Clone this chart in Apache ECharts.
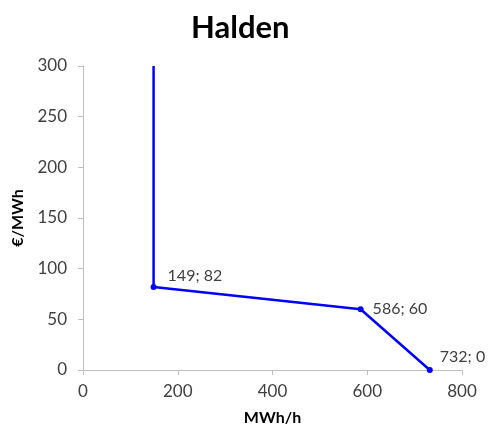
<!DOCTYPE html>
<html>
<head>
<meta charset="utf-8">
<script src="https://cdn.jsdelivr.net/npm/echarts@6/dist/echarts.min.js"></script>
<style>html,body{margin:0;padding:0;background:#fff}#c{width:489px;height:434px}</style>
</head>
<body>
<div id="c"></div>
<script>
// Supply curve for Halden: volume (MWh/h) against price (€/MWh)
const volumes = [149, 149, 586, 732];
const prices = [300, 82, 60, 0];
const labelled = [false, true, true, true];
const xTicks = { min: 0, max: 800, interval: 200 };
const yTicks = { min: 0, max: 300, interval: 50 };

const font = 'Lato, "Open Sans", sans-serif';
const points = volumes.map((v, i) => ({
  value: [v, prices[i]],
  symbolSize: labelled[i] ? 6 : 0,
  label: {
    show: labelled[i],
    position: 'right',
    offset: i === 1 ? [6, -11] : (i === 3 ? [2, -13] : [4, 0])
  }
}));

const chart = echarts.init(document.getElementById('c'));
chart.setOption({
  animation: false,
  title: {
    text: 'Halden', left: 186, top: 7,
    textStyle: { fontFamily: font, fontWeight: 'bold', fontSize: 31, color: '#000' }
  },
  grid: { left: 83, right: 27, top: 66, bottom: 64 },
  xAxis: {
    type: 'value', min: xTicks.min, max: xTicks.max, interval: xTicks.interval,
    name: 'MWh/h', nameLocation: 'middle', nameGap: 40,
    nameTextStyle: { fontFamily: font, fontWeight: 'bold', fontSize: 16, color: '#000' },
    axisLine: { show: true, lineStyle: { color: '#bfbfbf', width: 1 } },
    axisTick: { show: true, length: 5, lineStyle: { color: '#bfbfbf' } },
    axisLabel: { fontFamily: font, fontSize: 17, color: '#404040', margin: 13 },
    splitLine: { show: false }
  },
  yAxis: {
    type: 'value', min: yTicks.min, max: yTicks.max, interval: yTicks.interval,
    name: '€/MWh', nameLocation: 'middle', nameGap: 57, nameRotate: 90,
    nameTextStyle: { fontFamily: font, fontWeight: 'bold', fontSize: 16, color: '#000' },
    axisLine: { show: true, lineStyle: { color: '#bfbfbf', width: 1 } },
    axisTick: { show: true, length: 5, lineStyle: { color: '#bfbfbf' } },
    axisLabel: { fontFamily: font, fontSize: 17, color: '#404040', margin: 16 },
    splitLine: { show: false }
  },
  series: [{
    type: 'line',
    data: points,
    symbol: 'circle',
    showAllSymbol: true,
    lineStyle: { color: '#0000ff', width: 2.5 },
    itemStyle: { color: '#0000ff' },
    label: {
      fontFamily: font, fontSize: 16, color: '#404040',
      formatter: p => p.value[0] + '; ' + p.value[1]
    }
  }]
});
</script>
</body>
</html>
